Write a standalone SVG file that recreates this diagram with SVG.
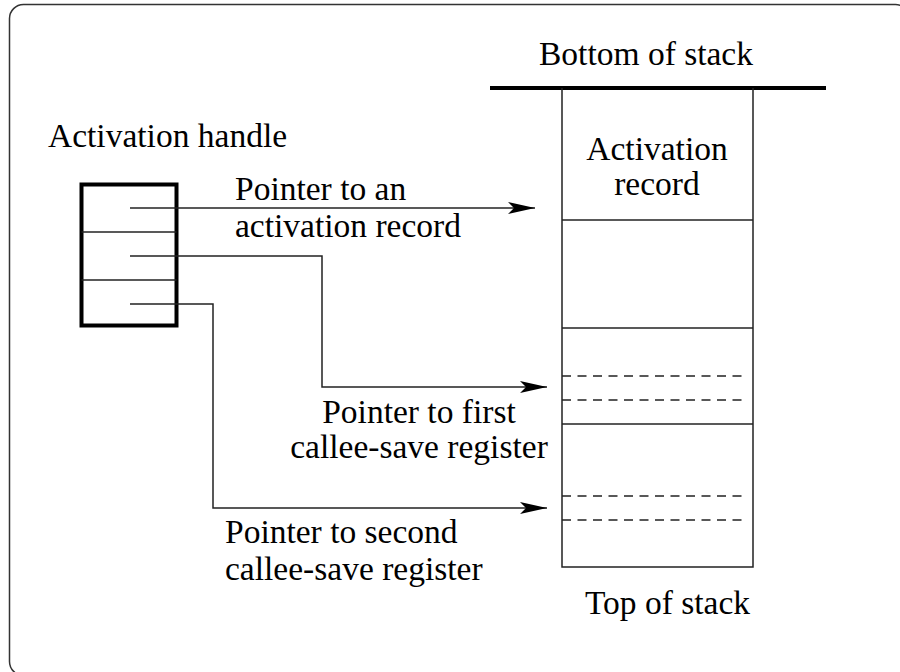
<svg xmlns="http://www.w3.org/2000/svg" width="900" height="672" viewBox="0 0 900 672">
<style>
.t{font-family:'Liberation Serif','Times New Roman',Times,'DejaVu Serif',serif;font-size:33.5px;fill:#000}
.thin{fill:none;stroke:#222;stroke-width:1.5}
.dash{fill:none;stroke:#222;stroke-width:1.5;stroke-dasharray:9 6.5}
.conn{fill:none;stroke:#222;stroke-width:1.5}
</style>
<defs>
<marker id="arr" markerUnits="userSpaceOnUse" viewBox="0 0 27 12" refX="27" refY="6" markerWidth="27" markerHeight="12" orient="auto">
<path d="M0,0 L27,6 L0,12 L6,6 Z" fill="#000"/>
</marker>
</defs>
<rect x="9.5" y="4.5" width="900" height="671" rx="14" fill="#fff" stroke="#333" stroke-width="1.5"/>
<g id="handle">
<rect x="81.5" y="184.5" width="95" height="141" fill="none" stroke="#000" stroke-width="4"/>
<line class="thin" x1="81.5" y1="232" x2="176.5" y2="232"/>
<line class="thin" x1="81.5" y1="280" x2="176.5" y2="280"/>
<text class="t" font-family="Liberation Serif" x="48" y="147">Activation handle</text>
</g>
<g id="stack">
<line x1="490" y1="88" x2="826" y2="88" stroke="#000" stroke-width="4"/>
<path class="thin" d="M562,88 V567 H753 V88"/>
<line class="thin" x1="562" y1="220" x2="753" y2="220"/>
<line class="thin" x1="562" y1="328" x2="753" y2="328"/>
<line class="thin" x1="562" y1="424" x2="753" y2="424"/>
<line class="dash" x1="562" y1="376" x2="746" y2="376"/>
<line class="dash" x1="562" y1="400" x2="746" y2="400"/>
<line class="dash" x1="562" y1="496" x2="746" y2="496"/>
<line class="dash" x1="562" y1="520" x2="746" y2="520"/>
<text class="t" font-family="Liberation Serif" x="646" y="65" text-anchor="middle">Bottom of stack</text>
<text class="t" font-family="Liberation Serif" x="657" y="160" text-anchor="middle">Activation</text>
<text class="t" font-family="Liberation Serif" x="657" y="195" text-anchor="middle">record</text>
<text class="t" font-family="Liberation Serif" x="585" y="614">Top of stack</text>
</g>
<g id="connectors">
<path class="conn" d="M130,208 H535" marker-end="url(#arr)"/>
<path class="conn" d="M130,256 H322 V387 H547" marker-end="url(#arr)"/>
<path class="conn" d="M130,304 H213 V508 H547" marker-end="url(#arr)"/>
</g>
<g id="labels">
<text class="t" font-family="Liberation Serif" x="235" y="200">Pointer to an</text>
<text class="t" font-family="Liberation Serif" x="235" y="237">activation record</text>
<text class="t" font-family="Liberation Serif" x="419" y="423" text-anchor="middle">Pointer to first</text>
<text class="t" font-family="Liberation Serif" x="419" y="458" text-anchor="middle">callee-save register</text>
<text class="t" font-family="Liberation Serif" x="225" y="543">Pointer to second</text>
<text class="t" font-family="Liberation Serif" x="225" y="580">callee-save register</text>
</g>
</svg>
